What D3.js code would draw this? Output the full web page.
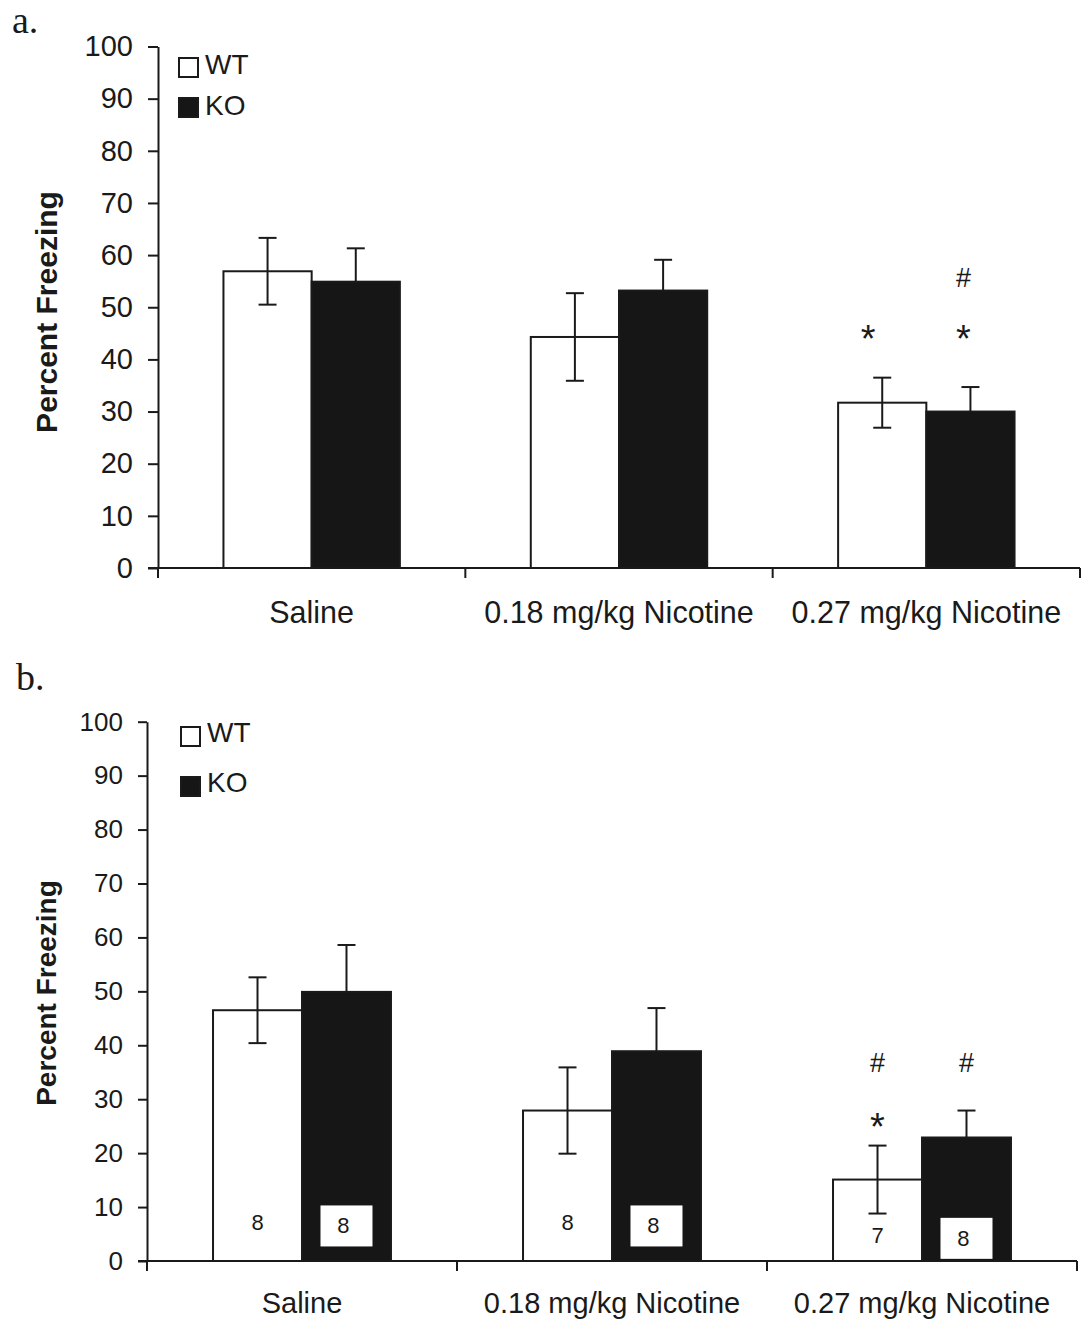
<!DOCTYPE html>
<html>
<head>
<meta charset="utf-8">
<script src="https://cdn.jsdelivr.net/npm/d3@7"></script>
<style>
  html, body { margin: 0; padding: 0; background: #fff; }
  svg { display: block; }
  text { font-family: "Liberation Sans", Arial, Helvetica, sans-serif; fill: #1a1a1a; }
</style>
</head>
<body>
<svg id="chart" width="1082" height="1321"></svg>
<script>
// ---------- data ----------
const categories = ["Saline", "0.18 mg/kg Nicotine", "0.27 mg/kg Nicotine"];
const groups = ["WT", "KO"];
const yTicks = [0, 10, 20, 30, 40, 50, 60, 70, 80, 90, 100];

// Panel a
const aWT = [56.9, 44.3, 31.7];
const aWTerr = [6.4, 8.4, 4.8];
const aKO = [54.9, 53.2, 30.0];
const aKOerr = [6.4, 5.9, 4.7];
const aWTmarks = [[], [], ["*"]];
const aKOmarks = [[], [], ["*", "#"]];

// Panel b
const bWT = [46.5, 27.9, 15.1];
const bWTerr = [6.1, 8.0, 6.3];
const bKO = [49.9, 38.9, 22.9];
const bKOerr = [8.7, 8.0, 5.0];
const bWTn = [8, 8, 7];
const bKOn = [8, 8, 8];
const bWTmarks = [[], [], ["*", "#"]];
const bKOmarks = [[], [], ["#"]];

// ---------- drawing ----------
const svg = d3.select("#chart");
const INK = "#1a1a1a";
const KOFILL = "#161616";

function panel(cfg) {
  const g = svg.append("g");
  const x = d3.scaleBand().domain(categories).range([cfg.x0, cfg.x1]).paddingInner(0).paddingOuter(0);
  const xg = d3.scaleBand().domain(groups).range([0, x.bandwidth()]).paddingInner(0).paddingOuter(0.742);
  const y = d3.scaleLinear().domain([0, 100]).range([cfg.yBottom, cfg.yTop]);

  // panel letter
  g.append("text").attr("x", cfg.letterX).attr("y", cfg.letterY)
    .style("font-family", "'Liberation Serif', 'Times New Roman', serif")
    .style("font-size", "38px").text(cfg.letter);

  // y axis
  const yAxis = d3.axisLeft(y).tickValues(yTicks).tickSize(cfg.tickLen).tickSizeOuter(0).tickPadding(cfg.tickPad);
  const ya = g.append("g").attr("transform", `translate(${cfg.x0},0)`).call(yAxis);
  ya.select(".domain").attr("stroke", INK).attr("stroke-width", 2);
  ya.selectAll(".tick line").attr("stroke", INK).attr("stroke-width", 2);
  ya.selectAll(".tick text").style("font-size", cfg.tickFont + "px").attr("fill", INK)
    .style("font-family", "'Liberation Sans', Arial, sans-serif");

  // y label
  g.append("text")
    .attr("transform", `translate(${cfg.yLabelX},${cfg.yLabelY}) rotate(-90)`)
    .attr("text-anchor", "middle")
    .style("font-size", cfg.yLabelFont + "px").style("font-weight", "bold")
    .text("Percent Freezing");

  // bars
  const rows = categories.map((c, i) => ({
    c, i,
    vals: [
      { grp: "WT", v: cfg.wt[i], e: cfg.wtErr[i], marks: cfg.wtMarks[i], n: cfg.wtN ? cfg.wtN[i] : null },
      { grp: "KO", v: cfg.ko[i], e: cfg.koErr[i], marks: cfg.koMarks[i], n: cfg.koN ? cfg.koN[i] : null }
    ]
  }));

  const cg = g.selectAll(".cat").data(rows).join("g").attr("class", "cat")
    .attr("transform", d => `translate(${x(d.c)},0)`);

  const bg = cg.selectAll(".bar").data(d => d.vals.map(v => Object.assign({ ci: d.i }, v))).join("g").attr("class", "bar");

  bg.append("rect")
    .attr("x", d => xg(d.grp))
    .attr("y", d => y(d.v))
    .attr("width", xg.bandwidth())
    .attr("height", d => y(0) - y(d.v))
    .attr("fill", d => d.grp === "WT" ? "#fff" : KOFILL)
    .attr("stroke", INK).attr("stroke-width", 2);

  // error bars
  bg.each(function (d) {
    const s = d3.select(this);
    const cx = xg(d.grp) + xg.bandwidth() / 2;
    const lo = d.grp === "WT" ? d.v - d.e : d.v;
    const hi = d.v + d.e;
    s.append("line").attr("x1", cx).attr("x2", cx).attr("y1", y(lo)).attr("y2", y(hi))
      .attr("stroke", INK).attr("stroke-width", 2);
    s.append("line").attr("x1", cx - 9).attr("x2", cx + 9).attr("y1", y(hi)).attr("y2", y(hi))
      .attr("stroke", INK).attr("stroke-width", 2);
    if (d.grp === "WT") {
      s.append("line").attr("x1", cx - 9).attr("x2", cx + 9).attr("y1", y(lo)).attr("y2", y(lo))
        .attr("stroke", INK).attr("stroke-width", 2);
    }
    // significance marks
    const mx = cx + (cfg.markShift ? cfg.markShift[d.grp] : 0);
    d.marks.forEach(m => {
      if (m === "*") {
        s.append("text").attr("x", mx).attr("y", y(cfg.starLevel) + 22)
          .attr("text-anchor", "middle")
          .style("font-size", "38px")
          .text(m);
      } else {
        s.append("text").attr("x", mx).attr("y", y(cfg.hashLevel))
          .attr("text-anchor", "middle").attr("dominant-baseline", "central")
          .style("font-size", "27px")
          .text(m);
      }
    });
    // n labels
    if (d.n !== null) {
      const lv = cfg.nLevel[d.ci];
      if (d.grp === "KO") {
        s.append("rect").attr("x", cx - 26).attr("y", y(lv) - 20.5).attr("width", 52).attr("height", 41)
          .attr("fill", "#fff").attr("stroke", "none");
      }
      s.append("text").attr("x", d.grp === "WT" ? cx : cx - 3).attr("y", y(lv) + (d.grp === "WT" ? -3 : 0))
        .attr("text-anchor", "middle").attr("dominant-baseline", "central")
        .style("font-size", "22px").text(d.n);
    }
  });

  // x axis line & boundary ticks
  g.append("line").attr("x1", cfg.x0 - cfg.tickLen).attr("x2", cfg.x1)
    .attr("y1", y(0)).attr("y2", y(0)).attr("stroke", INK).attr("stroke-width", 2);
  const bounds = [x.range()[0]].concat(categories.map(c => x(c) + x.bandwidth()));
  g.selectAll(".xtick").data(bounds).join("line").attr("class", "xtick")
    .attr("x1", d => d).attr("x2", d => d).attr("y1", y(0)).attr("y2", y(0) + 10)
    .attr("stroke", INK).attr("stroke-width", 2);

  // x labels
  g.selectAll(".xlab").data(categories).join("text").attr("class", "xlab")
    .attr("x", d => x(d) + x.bandwidth() / 2).attr("y", cfg.xLabelY)
    .attr("text-anchor", "middle").style("font-size", cfg.xLabelFont + "px")
    .text(d => d);

  // legend
  const lg = g.append("g");
  groups.forEach((grp, i) => {
    lg.append("rect").attr("x", cfg.legX).attr("y", cfg.legY[i]).attr("width", 19).attr("height", 19)
      .attr("fill", grp === "WT" ? "#fff" : KOFILL).attr("stroke", INK).attr("stroke-width", 2);
    lg.append("text").attr("x", cfg.legX + 26).attr("y", cfg.legTextY[i])
      .style("font-size", "28px").text(grp);
  });
}

panel({
  letter: "a.", letterX: 12, letterY: 33,
  x0: 158, x1: 1080, yBottom: 568, yTop: 46.5,
  tickLen: 10, tickPad: 15, tickFont: 29,
  yLabelX: 57, yLabelY: 312, yLabelFont: 30,
  xLabelY: 623, xLabelFont: 30.5,
  wt: aWT, wtErr: aWTerr, ko: aKO, koErr: aKOerr,
  wtMarks: aWTmarks, koMarks: aKOmarks,
  markShift: { WT: -14, KO: -7 },
  starLevel: 45.6, hashLevel: 55.6,
  legX: 179, legY: [58, 98], legTextY: [74, 115]
});

panel({
  letter: "b.", letterX: 16, letterY: 690,
  x0: 147, x1: 1077, yBottom: 1261, yTop: 721.7,
  tickLen: 9, tickPad: 15, tickFont: 26,
  yLabelX: 56, yLabelY: 993, yLabelFont: 28,
  xLabelY: 1313, xLabelFont: 29,
  wt: bWT, wtErr: bWTerr, ko: bKO, koErr: bKOerr,
  wtMarks: bWTmarks, koMarks: bKOmarks,
  wtN: bWTn, koN: bKOn, nLevel: [6.5, 6.5, 4.2],
  starLevel: 26.5, hashLevel: 36.7,
  legX: 181, legY: [727, 777], legTextY: [742, 792]
});
</script>
</body>
</html>
